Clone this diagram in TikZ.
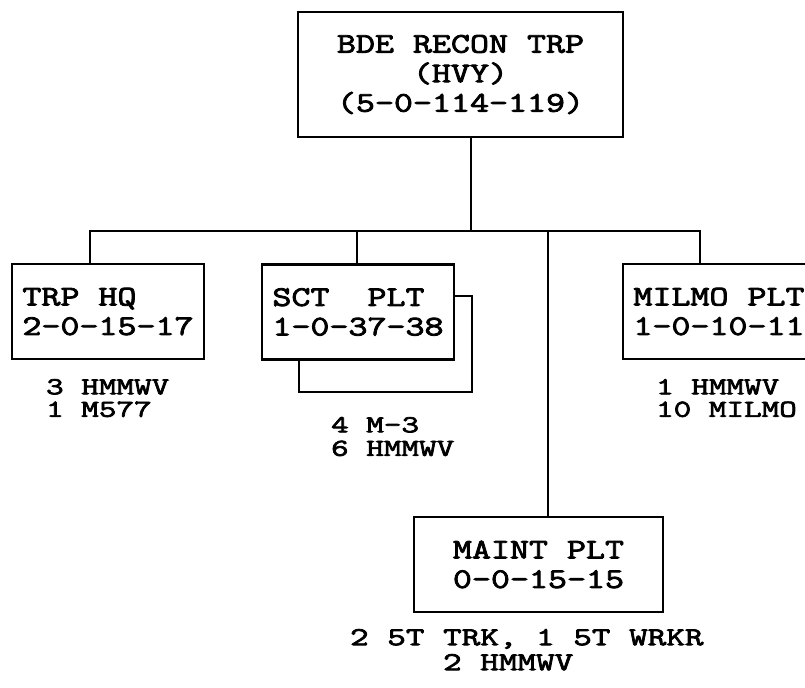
\documentclass[tikz,border=0pt]{standalone}
\usepackage{fontspec}
\usetikzlibrary{positioning}
\newfontfamily\orgfont{Latin Modern Mono}[FakeBold=3,FakeStretch=1.3]
\newfontfamily\gearfont{Latin Modern Mono}[FakeBold=3,FakeStretch=1.4]

\begin{document}
\begin{tikzpicture}[x=0.5pt, y=-0.5pt, line width=1.1pt]
  % Styles
  \tikzstyle{unit} = [rectangle, draw, fill=white, inner sep=0pt, align=left, minimum width=96pt, minimum height=47.5pt, font=\orgfont\fontsize{14.2pt}{14.75pt}\selectfont]
  \tikzstyle{gear} = [anchor=north west, inner sep=0pt, align=left, font=\gearfont\fontsize{12.2pt}{11.25pt}\selectfont]

  \clip (0,0) rectangle (805,688);

  % Nodes
  \node[unit, align=center, minimum width=162.5pt, minimum height=62.5pt] (bde) at (460.5,74.5) {BDE RECON TRP\\(HVY)\\(5-0-114-119)};

  \node[unit] (hq) at (108,311.5) {TRP HQ\\2-0-15-17};
  \node[draw, fill=white, inner sep=0pt, minimum width=86.5pt, minimum height=48pt] (sctback) at (385.5,344) {};
  \node[unit] (sct) at (358,312) {SCT~~PLT\\1-0-37-38};
  \node[unit] (milmo) at (719,311.5) {MILMO PLT\\1-0-10-11};
  \node[unit, minimum width=124.5pt] (maint) at (538.5,564.5) {MAINT PLT\\0-0-15-15};

  \node[gear] (hqgear) at (45,378) {3 HMMWV\\1 M577};
  \node[gear, font=\gearfont\fontsize{12.2pt}{11.75pt}\selectfont] (sctgear) at (330,416) {4 M-3\\6 HMMWV};
  \node[gear] (milmogear) at (655,378) {1 HMMWV\\10 MILMO};
  \node[gear, font=\gearfont\fontsize{12.9pt}{12.5pt}\selectfont] (maintgear) at (349,628) {2 5T TRK, 1 5T WRKR\\~~~~~2 HMMWV};

  % Edges
  \coordinate (tap) at (471,231);
  \coordinate (jhq) at (90,231);
  \coordinate (jsct) at (357,231);
  \coordinate (jmaint) at (548,231);
  \coordinate (jmilmo) at (700,231);

  \draw (bde.south -| tap) -- (tap);
  \draw (hq.north -| jhq) -- (jhq) -- (jmilmo) -- (milmo.north -| jmilmo);
  \draw (jsct) -- (sct.north -| jsct);
  \draw (jmaint) -- (maint.north -| jmaint);

\end{tikzpicture}
\end{document}
